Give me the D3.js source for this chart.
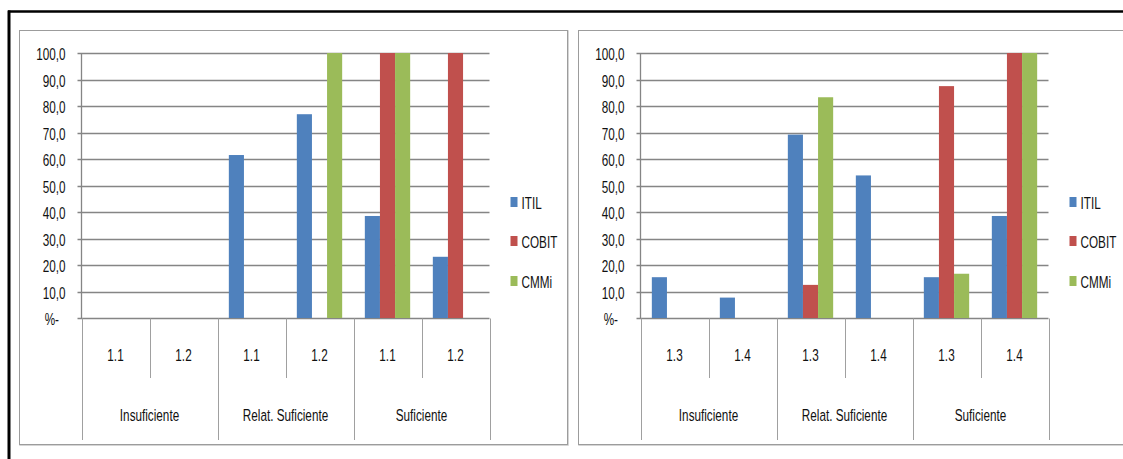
<!DOCTYPE html>
<html>
<head>
<meta charset="utf-8">
<script src="https://cdn.jsdelivr.net/npm/d3@7"></script>
<style>
  html, body { margin: 0; padding: 0; background: #fff; }
  svg { display: block; }
  text { font-family: "Liberation Sans", Arial, sans-serif; fill: #111; }
</style>
</head>
<body>
<svg id="chart" width="1123" height="459"></svg>
<script>
// Evaluation levels and sub-criteria
const groups = ["Insuficiente", "Relat. Suficiente", "Suficiente"];
const leftCodes = ["1.1", "1.2"];
const rightCodes = ["1.3", "1.4"];
const series = ["ITIL", "COBIT", "CMMi"];
const seriesColors = ["#4F81BD", "#C0504D", "#9BBB59"];

// Percentages per leaf category (Insuf a, Insuf b, Relat a, Relat b, Suf a, Suf b)
const leftITIL  = [0, 0, 61.5, 76.9, 38.5, 23.1];
const leftCOBIT = [0, 0, 0, 0, 100, 100];
const leftCMMi  = [0, 0, 0, 100, 100, 0];

const rightITIL  = [15.4, 7.7, 69.2, 53.8, 15.4, 38.5];
const rightCOBIT = [0, 0, 12.5, 0, 87.5, 100];
const rightCMMi  = [0, 0, 83.3, 0, 16.7, 100];

const yTicks = [0, 10, 20, 30, 40, 50, 60, 70, 80, 90, 100];
const yTickLabels = ["%-\u00a0\u00a0", "10,0", "20,0", "30,0", "40,0", "50,0", "60,0", "70,0", "80,0", "90,0", "100,0"];

const svg = d3.select("#chart");
const FONT = 17, SX = 0.69;

function label(g, x, y, str, anchor) {
  g.append("g")
    .attr("transform", `translate(${x},${y}) scale(${SX},1)`)
    .append("text")
    .attr("text-anchor", anchor || "middle")
    .attr("dominant-baseline", "central")
    .style("font-size", FONT + "px")
    .style("white-space", "pre")
    .text(str);
}

// outer frame
svg.append("line").attr("x1", 8).attr("x2", 1123).attr("y1", 11.5).attr("y2", 11.5)
  .attr("stroke", "#000").attr("stroke-width", 2.5);
svg.append("line").attr("x1", 9).attr("x2", 9).attr("y1", 10.5).attr("y2", 459)
  .attr("stroke", "#000").attr("stroke-width", 3);

function drawPanel(px, pw, codes, values) {
  const g = svg.append("g");
  const top = 30, bottom = 444;

  // panel border with soft shadow
  g.append("rect").attr("x", px + 1).attr("y", top + 1).attr("width", pw).attr("height", bottom - top)
    .attr("fill", "none").attr("stroke", "#c8c8c8").attr("stroke-width", 1.5);
  g.append("rect").attr("x", px + 0.5).attr("y", top + 0.5).attr("width", pw).attr("height", bottom - top)
    .attr("fill", "#fff").attr("stroke", "#9c9c9c").attr("stroke-width", 1);

  const ax = px + 62.5;
  const plotW = 408;

  const leafKeys = [];
  groups.forEach((gr, gi) => codes.forEach((c, ci) => leafKeys.push({ key: gi + "-" + ci, code: c, group: gi })));

  const x0 = d3.scaleBand().domain(leafKeys.map(d => d.key)).range([ax, ax + plotW]).padding(0);
  const x1 = d3.scaleBand().domain(series).range([0, x0.bandwidth()]).paddingInner(0).paddingOuter(0.75);
  const y = d3.scaleLinear().domain([0, 100]).range([318, 53]);

  // horizontal gridlines with tick marks
  const gridColor = "#858585";
  g.selectAll(".grid").data(yTicks).join("line")
    .attr("x1", ax - 4).attr("x2", ax + plotW)
    .attr("y1", d => Math.round(y(d)) + 0.5).attr("y2", d => Math.round(y(d)) + 0.5)
    .attr("stroke", gridColor).attr("stroke-width", 1.3);

  // y labels
  yTicks.forEach((t, i) => label(g, ax - 16, Math.round(y(t)) + 1, yTickLabels[i], "end"));

  // bars
  leafKeys.forEach((lk, li) => {
    series.forEach((s, si) => {
      const v = values[si][li];
      if (!v) return;
      g.append("rect")
        .attr("x", x0(lk.key) + x1(s))
        .attr("y", y(v))
        .attr("width", x1.bandwidth())
        .attr("height", y(0) - y(v))
        .attr("fill", seriesColors[si]);
    });
  });

  // value axis line
  g.append("line").attr("x1", ax).attr("x2", ax).attr("y1", y(100)).attr("y2", y(0))
    .attr("stroke", gridColor).attr("stroke-width", 1.3);

  // category axis: leaf separators and group separators
  const axisY = Math.round(y(0)) + 0.5;
  leafKeys.forEach((lk, li) => {
    const xs = Math.round(x0(lk.key)) + 0.5;
    const isGroupStart = li % codes.length === 0;
    g.append("line").attr("x1", xs).attr("x2", xs).attr("y1", axisY)
      .attr("y2", isGroupStart ? 440 : 378)
      .attr("stroke", "#a0a0a0").attr("stroke-width", 1);
    label(g, x0(lk.key) + x0.bandwidth() / 2, 355, lk.code);
  });
  const xe = Math.round(ax + plotW) + 0.5;
  g.append("line").attr("x1", xe).attr("x2", xe).attr("y1", axisY).attr("y2", 440)
    .attr("stroke", "#a0a0a0").attr("stroke-width", 1);

  groups.forEach((gr, gi) => {
    const first = x0(gi + "-0");
    const last = x0(gi + "-" + (codes.length - 1)) + x0.bandwidth();
    label(g, (first + last) / 2, 415, gr);
  });

  // legend
  const lx = ax + plotW + 21;
  const ly = [202, 241, 281];
  series.forEach((s, si) => {
    g.append("rect").attr("x", lx).attr("y", ly[si] - 5).attr("width", 7).attr("height", 10)
      .attr("fill", seriesColors[si]);
    label(g, lx + 11, ly[si] + 1, s, "start");
  });
}

drawPanel(19, 548, leftCodes, [leftITIL, leftCOBIT, leftCMMi]);
drawPanel(578, 560, rightCodes, [rightITIL, rightCOBIT, rightCMMi]);
</script>
</body>
</html>
